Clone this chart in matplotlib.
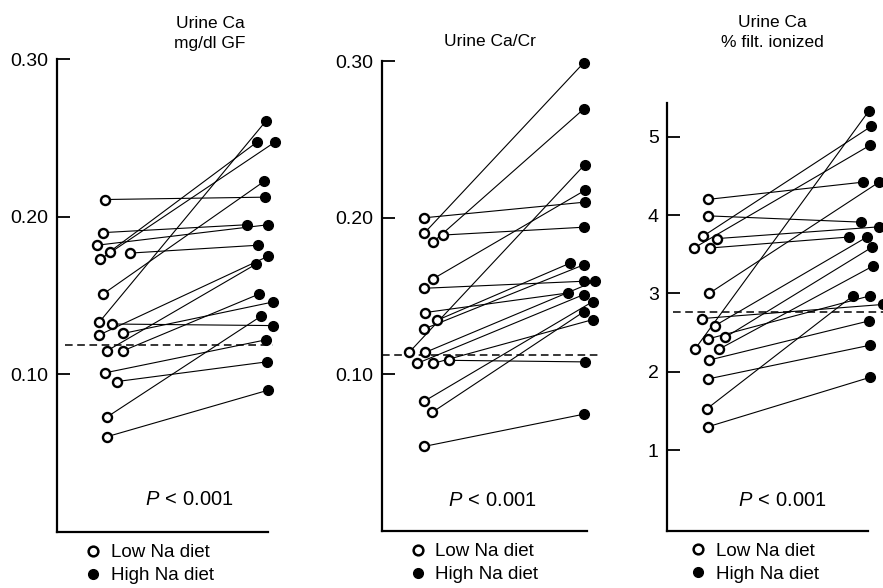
import matplotlib
matplotlib.use("Agg")
import matplotlib.pyplot as plt
from matplotlib.lines import Line2D

plt.rcParams['font.family'] = ['Liberation Sans', 'DejaVu Sans']
plt.rcParams['mathtext.fontset'] = 'custom'
plt.rcParams['mathtext.rm'] = 'Liberation Sans'
plt.rcParams['mathtext.it'] = 'Liberation Sans:italic'

# panel 1: urine Ca mg/dl GF  (low Na -> high Na, same subject per index)
ca_gf_low = [0.211, 0.190, 0.182, 0.178, 0.177, 0.173, 0.151, 0.133, 0.132,
             0.125, 0.126, 0.115, 0.115, 0.101, 0.0955, 0.073, 0.0605]
ca_gf_high = [0.2125, 0.195, 0.195, 0.2475, 0.182, 0.2475, 0.2225, 0.261, 0.131,
              0.175, 0.146, 0.170, 0.151, 0.122, 0.108, 0.137, 0.090]
ca_gf_low_x = [0.227, 0.218, 0.190, 0.251, 0.346, 0.204, 0.218, 0.199, 0.261,
               0.199, 0.313, 0.237, 0.313, 0.227, 0.284, 0.237, 0.237]
ca_gf_high_x = [0.986, 0.900, 1.0, 0.948, 0.953, 1.033, 0.981, 0.991, 1.024,
                1.0, 1.024, 0.943, 0.957, 0.991, 0.995, 0.967, 1.0]

# panel 2: urine Ca/Cr
ca_cr_low = [0.200, 0.190, 0.189, 0.1845, 0.161, 0.155, 0.1395, 0.1345, 0.129,
             0.114, 0.114, 0.107, 0.107, 0.109, 0.0828, 0.0757, 0.054]
ca_cr_high = [0.210, 0.299, 0.194, 0.2695, 0.2175, 0.1595, 0.152, 0.171, 0.170,
              0.234, 0.1595, 0.151, 0.135, 0.108, 0.1465, 0.140, 0.0746]
ca_cr_low_x = [0.205, 0.205, 0.298, 0.249, 0.249, 0.205, 0.210, 0.268, 0.205,
               0.132, 0.210, 0.171, 0.249, 0.327, 0.205, 0.244, 0.205]
ca_cr_high_x = [0.990, 0.985, 0.985, 0.985, 0.990, 0.985, 0.907, 0.917, 0.985,
                0.990, 1.039, 0.985, 1.029, 0.990, 1.029, 0.985, 0.985]

# panel 3: urine Ca % filtered ionized
ca_ion_low = [4.20, 3.99, 3.73, 3.70, 3.58, 3.58, 3.00, 2.68, 2.59,
              2.42, 2.44, 2.29, 2.29, 2.15, 1.91, 1.53, 1.30]
ca_ion_high = [4.42, 3.91, 5.13, 3.85, 4.89, 3.72, 4.42, 2.86, 3.72,
               2.97, 3.59, 5.33, 3.35, 2.65, 2.34, 2.97, 1.93]
ca_ion_low_x = [0.204, 0.204, 0.179, 0.249, 0.134, 0.214, 0.209, 0.174, 0.239,
                0.204, 0.289, 0.139, 0.259, 0.209, 0.204, 0.199, 0.204]
ca_ion_high_x = [0.975, 0.965, 1.015, 1.055, 1.010, 0.905, 1.055, 1.075, 0.995,
                 1.010, 1.020, 1.005, 1.025, 1.005, 1.010, 0.925, 1.010]

# dashed reference levels
ref_levels = [0.1185, 0.1127, 2.76]

fig = plt.figure(figsize=(8.83, 5.88), dpi=100)

ax1 = fig.add_axes([0.0646, 0.0952, 0.239, 0.804])
ax2 = fig.add_axes([0.4326, 0.0969, 0.232, 0.799])
ax3 = fig.add_axes([0.7554, 0.0969, 0.2276, 0.728])


def draw_panel(ax, lo, hi, lox, hix, ref, dash_x, ylim, yticks, yticklabels, p_xy, leg_x):
    for a, b, xa, xb in zip(lo, hi, lox, hix):
        ax.plot([xa, xb], [a, b], color='black', lw=0.8, zorder=1, clip_on=False)
    ax.plot(dash_x, [ref, ref], color='black', lw=1.1, dashes=(5, 3), zorder=2, clip_on=False)
    ax.plot(lox, lo, 'o', mfc='white', mec='black', mew=1.7, ms=6.5, ls='none',
            zorder=3, clip_on=False)
    ax.plot(hix, hi, 'o', color='black', ms=7, ls='none', zorder=3, clip_on=False)

    ax.set_xlim(0, 1)
    ax.set_ylim(*ylim)
    ax.set_xticks([])
    ax.set_yticks(yticks)
    ax.set_yticklabels(yticklabels, fontsize=14)
    ax.tick_params(axis='y', direction='in', length=9, width=1.3, pad=6)
    for s in ['top', 'right']:
        ax.spines[s].set_visible(False)
    ax.spines['left'].set_linewidth(1.6)
    ax.spines['bottom'].set_linewidth(1.6)

    ax.text(p_xy[0], p_xy[1], r'$P\,<\,$0.001', transform=ax.transAxes,
            ha='center', va='center', fontsize=14.5)

    handles = [
        Line2D([], [], marker='o', ls='none', mfc='white', mec='black', mew=1.8, ms=7),
        Line2D([], [], marker='o', ls='none', color='black', ms=7),
    ]
    ax.legend(handles, ['Low Na diet', 'High Na diet'], loc='upper left',
              bbox_to_anchor=(leg_x, -0.01), frameon=False, fontsize=13.5,
              handlelength=0.7, handletextpad=0.6, labelspacing=0.3,
              borderaxespad=0)


draw_panel(ax1, ca_gf_low, ca_gf_high, ca_gf_low_x, ca_gf_high_x, ref_levels[0],
           [0.038, 1.024], (0, 0.30), [0.10, 0.20, 0.30], ['0.10', '0.20', '0.30'],
           (0.626, 0.068), 0.105)
draw_panel(ax2, ca_cr_low, ca_cr_high, ca_cr_low_x, ca_cr_high_x, ref_levels[1],
           [0.0, 1.063], (0, 0.30), [0.10, 0.20, 0.30], ['0.10', '0.20', '0.30'],
           (0.541, 0.066), 0.105)
draw_panel(ax3, ca_ion_low, ca_ion_high, ca_ion_low_x, ca_ion_high_x, ref_levels[2],
           [0.03, 1.075], (-0.03, 5.43), [1, 2, 3, 4, 5], ['1', '2', '3', '4', '5'],
           (0.572, 0.072), 0.085)

fig.text(0.238, 0.943, 'Urine Ca\nmg/dl GF', ha='center', va='center',
         fontsize=12.5, linespacing=1.4)
fig.text(0.555, 0.929, 'Urine Ca/Cr', ha='center', va='center', fontsize=12.5)
fig.text(0.875, 0.945, 'Urine Ca\n% filt. ionized', ha='center', va='center',
         fontsize=12.5, linespacing=1.4)

fig.savefig('out.png', dpi=100)
